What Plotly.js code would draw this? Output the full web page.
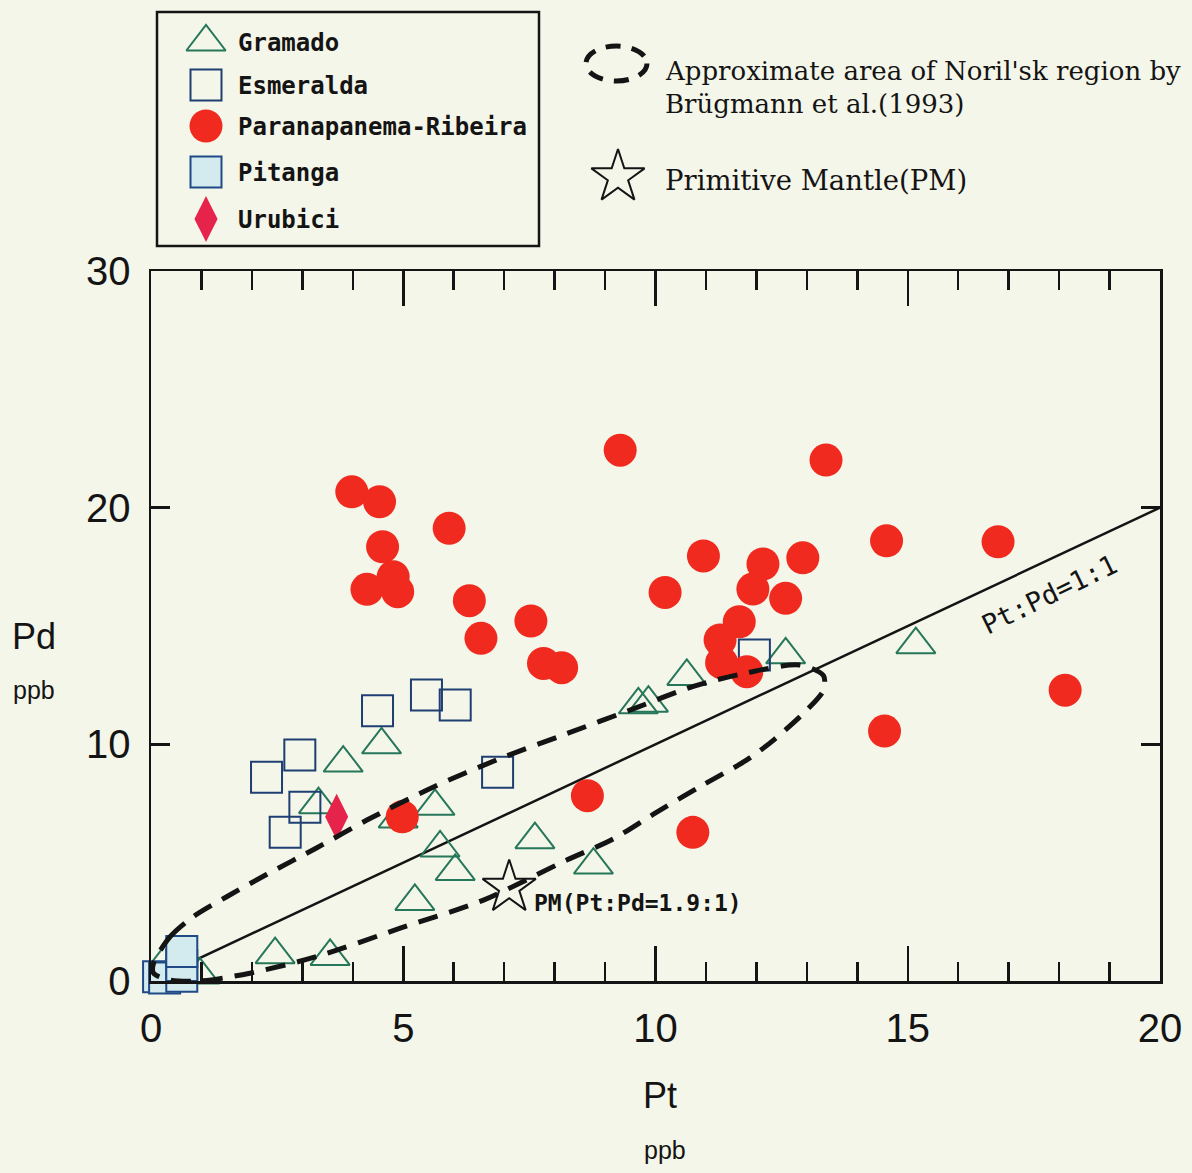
<!DOCTYPE html>
<html>
<head>
<meta charset="utf-8">
<script src="https://cdn.plot.ly/plotly-3.0.1.min.js"></script>
<style>html,body{margin:0;padding:0;background:#f4f6e9;}#chart{width:1192px;height:1173px;}</style>
</head>
<body>
<div id="chart"></div>
<script>
// ---------- data (Pt, Pd in ppb) ----------
const gramadoPt = [4.57, 3.81, 3.32, 5.63, 4.90, 5.73, 6.03, 7.61, 5.23, 8.77, 2.46, 3.55, 9.66, 9.86, 10.62, 12.58, 15.16, 0.97, 0.35];
const gramadoPd = [9.98, 9.21, 7.45, 7.38, 6.85, 5.62, 4.63, 5.97, 3.36, 4.90, 1.11, 1.04, 11.67, 11.74, 12.87, 13.78, 14.21, 0.25, 1.00];

const esmeraldaPt = [4.49, 5.46, 6.03, 2.95, 2.29, 3.05, 2.66, 6.87, 11.96];
const esmeraldaPd = [11.42, 12.08, 11.66, 9.55, 8.61, 7.34, 6.28, 8.82, 13.77];

const pitangaPt = [0.15, 0.27, 0.61, 0.61, 0.61];
const pitangaPd = [0.18, 0.13, 0.20, 0.65, 1.25];

const paranaPt = [9.30, 13.38, 3.98, 4.53, 5.91, 4.59, 4.80, 4.28, 4.89, 6.31, 6.54, 7.53, 7.78, 8.14,
                  10.95, 10.19, 12.13, 12.92, 14.58, 16.79, 11.93, 12.58, 11.66, 11.28, 11.31, 11.81,
                  14.54, 18.12, 8.65, 10.74, 4.98];
const paranaPd = [22.43, 22.01, 20.67, 20.25, 19.13, 18.35, 17.08, 16.55, 16.45, 16.07, 14.48, 15.21, 13.42, 13.24,
                  17.96, 16.42, 17.62, 17.88, 18.60, 18.56, 16.56, 16.17, 15.18, 14.41, 13.45, 13.07,
                  10.56, 12.29, 7.83, 6.28, 6.94];

const urubiciPt = [3.68];
const urubiciPd = [6.94];

const pmPt = [7.1];
const pmPd = [3.95];

const ratioLinePt = [0, 20];
const ratioLinePd = [0, 20];

// outline of Noril'sk field
const norilskPt = [0.05, 0.38, 0.84, 1.50, 2.29, 3.28, 4.28, 5.60, 6.92, 8.24, 9.56, 10.75, 11.81, 12.86, 13.33, 13.33, 13.00, 12.34, 11.81, 10.88, 9.96, 9.16, 8.24, 6.59, 4.94, 3.28, 1.96, 0.97, 0.38, 0.05, 0.05];
const norilskPd = [0.75, 1.87, 2.72, 3.56, 4.50, 5.62, 6.80, 8.20, 9.40, 10.45, 11.50, 12.45, 13.02, 13.35, 12.90, 12.29, 11.45, 10.18, 9.34, 8.21, 7.05, 6.00, 5.11, 3.42, 2.23, 1.03, 0.33, 0.00, 0.04, 0.33, 0.75];

const xTickVals = [0, 5, 10, 15, 20];
const yTickVals = [0, 10, 20, 30];

const legendNames = ['Gramado', 'Esmeralda', 'Paranapanema-Ribeira', 'Pitanga', 'Urubici'];

// ---------- styles ----------
const BG = '#f4f6e9';
const INK = '#141414';
const RED = '#f02a1f';
const GREEN = '#26775a';
const NAVY = '#1f3f72';
const PIT_FILL = '#d3ebef';
const PIT_LINE = '#1f4a86';
const PINK = '#e6234b';

const styles = {
  Gramado: {symbol: 'triangle-up-open', size: 34, color: GREEN, line: {color: GREEN, width: 2}},
  Esmeralda: {symbol: 'square-open', size: 31, color: NAVY, line: {color: NAVY, width: 2}},
  'Paranapanema-Ribeira': {symbol: 'circle', size: 33, color: RED, line: {width: 0}},
  Pitanga: {symbol: 'square', size: 31, color: PIT_FILL, line: {color: PIT_LINE, width: 2}},
  Urubici: {symbol: 'diamond-tall', size: 33, color: PINK, line: {width: 0}}
};

const W = 1192, H = 1173;
const plotL = 151, plotR = 1160, plotT = 271, plotB = 981;

const monoFont = {family: 'DejaVu Sans Mono', size: 24, color: INK, weight: 'bold'};
const serifFont = {family: 'DejaVu Serif', size: 26, color: INK};

const traces = [
  {x: ratioLinePt, y: ratioLinePd, mode: 'lines', line: {color: INK, width: 2.5}, showlegend: false, hoverinfo: 'skip', name: 'Pt:Pd=1:1'},
  {x: gramadoPt, y: gramadoPd, mode: 'markers', name: 'Gramado', marker: styles['Gramado'], showlegend: false, cliponaxis: false},
  {x: esmeraldaPt, y: esmeraldaPd, mode: 'markers', name: 'Esmeralda', marker: styles['Esmeralda'], showlegend: false, cliponaxis: false},
  {x: pitangaPt, y: pitangaPd, mode: 'markers', name: 'Pitanga', marker: styles['Pitanga'], showlegend: false, cliponaxis: false},
  {x: paranaPt, y: paranaPd, mode: 'markers', name: 'Paranapanema-Ribeira', marker: styles['Paranapanema-Ribeira'], showlegend: false, cliponaxis: false},
  {x: urubiciPt, y: urubiciPd, mode: 'markers', name: 'Urubici', marker: styles['Urubici'], showlegend: false, cliponaxis: false},
  {x: pmPt, y: pmPd, mode: 'markers', name: 'Primitive Mantle(PM)', marker: {symbol: 'star-open', size: 40, color: INK, line: {color: INK, width: 2}}, showlegend: false, cliponaxis: false},
  {x: norilskPt, y: norilskPd, mode: 'lines', name: "Noril'sk", line: {color: INK, width: 5, dash: '20px,12px', shape: 'spline', smoothing: 0.8}, showlegend: false, hoverinfo: 'skip'}
];

// manual legend symbols drawn on a pixel-space helper axis (x2/y2)
const legRowY = [42, 85, 126, 172, 219];
const legSymX = 206;
legendNames.forEach((nm, i) => {
  traces.push({x: [legSymX], y: [legRowY[i]], xaxis: 'x2', yaxis: 'y2', mode: 'markers', marker: styles[nm], showlegend: false, hoverinfo: 'skip', name: nm});
});
traces.push({x: [618], y: [177], xaxis: 'x2', yaxis: 'y2', mode: 'markers', marker: {symbol: 'star-open', size: 40, color: INK, line: {color: INK, width: 2}}, showlegend: false, hoverinfo: 'skip', name: 'PM legend'});

const annotations = [];
legendNames.forEach((nm, i) => {
  annotations.push({xref: 'x2', yref: 'y2', x: 236, y: legRowY[i] + 1, text: nm, showarrow: false, xanchor: 'left', yanchor: 'middle', font: monoFont});
});
annotations.push(
  {xref: 'x2', yref: 'y2', x: 663, y: 71, text: "Approximate area of Noril'sk region by", showarrow: false, xanchor: 'left', yanchor: 'middle', font: serifFont},
  {xref: 'x2', yref: 'y2', x: 663, y: 104, text: 'Brügmann et al.(1993)', showarrow: false, xanchor: 'left', yanchor: 'middle', font: serifFont},
  {xref: 'x2', yref: 'y2', x: 663, y: 180, text: 'Primitive Mantle(PM)', showarrow: false, xanchor: 'left', yanchor: 'middle', font: {family: 'DejaVu Serif', size: 27.5, color: INK}},
  {xref: 'x2', yref: 'y2', x: 34, y: 636, text: 'Pd', showarrow: false, xanchor: 'center', yanchor: 'middle', font: {family: 'Liberation Sans', size: 36, color: INK}},
  {xref: 'x2', yref: 'y2', x: 34, y: 690, text: 'ppb', showarrow: false, xanchor: 'center', yanchor: 'middle', font: {family: 'Liberation Sans', size: 25, color: INK}},
  {xref: 'x2', yref: 'y2', x: 660, y: 1095, text: 'Pt', showarrow: false, xanchor: 'center', yanchor: 'middle', font: {family: 'Liberation Sans', size: 36, color: INK}},
  {xref: 'x2', yref: 'y2', x: 665, y: 1150, text: 'ppb', showarrow: false, xanchor: 'center', yanchor: 'middle', font: {family: 'Liberation Sans', size: 25, color: INK}},
  {xref: 'x', yref: 'y', x: 17.8, y: 16.35, text: 'Pt:Pd=1:1', textangle: -26, showarrow: false, xanchor: 'center', yanchor: 'middle', font: {family: 'DejaVu Sans Mono', size: 27, color: INK}},
  {xref: 'x', yref: 'y', x: 7.55, y: 3.3, text: 'PM(Pt:Pd=1.9:1)', showarrow: false, xanchor: 'left', yanchor: 'middle', font: {family: 'DejaVu Sans Mono', size: 23, color: INK, weight: 'bold'}}
);

const shapes = [
  {type: 'rect', xref: 'x2', yref: 'y2', x0: 157, x1: 539, y0: 12, y1: 246, line: {color: INK, width: 2.5}, fillcolor: 'rgba(0,0,0,0)'},
  {type: 'circle', xref: 'x2', yref: 'y2', x0: 586, x1: 647, y0: 46, y1: 81, line: {color: INK, width: 5, dash: '15px,11px'}, fillcolor: 'rgba(0,0,0,0)'}
];

const axisCommon = {
  showgrid: false, zeroline: false, showline: true, linecolor: INK, linewidth: 2.5,
  mirror: 'ticks', ticks: 'inside', tickcolor: INK, tickwidth: 2.5,
  tickfont: {family: 'Liberation Sans', size: 40, color: INK}
};

const layout = {
  width: W, height: H,
  margin: {l: 0, r: 0, t: 0, b: 0},
  paper_bgcolor: BG, plot_bgcolor: 'rgba(0,0,0,0)',
  showlegend: false,
  xaxis: Object.assign({}, axisCommon, {
    domain: [plotL / W, plotR / W], range: [0, 20], tickvals: xTickVals, ticklen: 35,
    minor: {dtick: 1, ticks: 'inside', ticklen: 19, tickwidth: 2.5, tickcolor: INK, showgrid: false},
    ticklabelstandoff: 10
  }),
  yaxis: Object.assign({}, axisCommon, {
    domain: [1 - plotB / H, 1 - plotT / H], range: [0, 30], tickvals: yTickVals, ticklen: 19,
    ticklabelstandoff: 10
  }),
  xaxis2: {domain: [0, 1], range: [0, W], visible: false, anchor: 'y2', fixedrange: true},
  yaxis2: {domain: [0, 1], range: [H, 0], visible: false, anchor: 'x2', fixedrange: true},
  annotations: annotations,
  shapes: shapes
};

Plotly.newPlot('chart', traces, layout, {displayModeBar: false, staticPlot: true});
</script>
</body>
</html>
